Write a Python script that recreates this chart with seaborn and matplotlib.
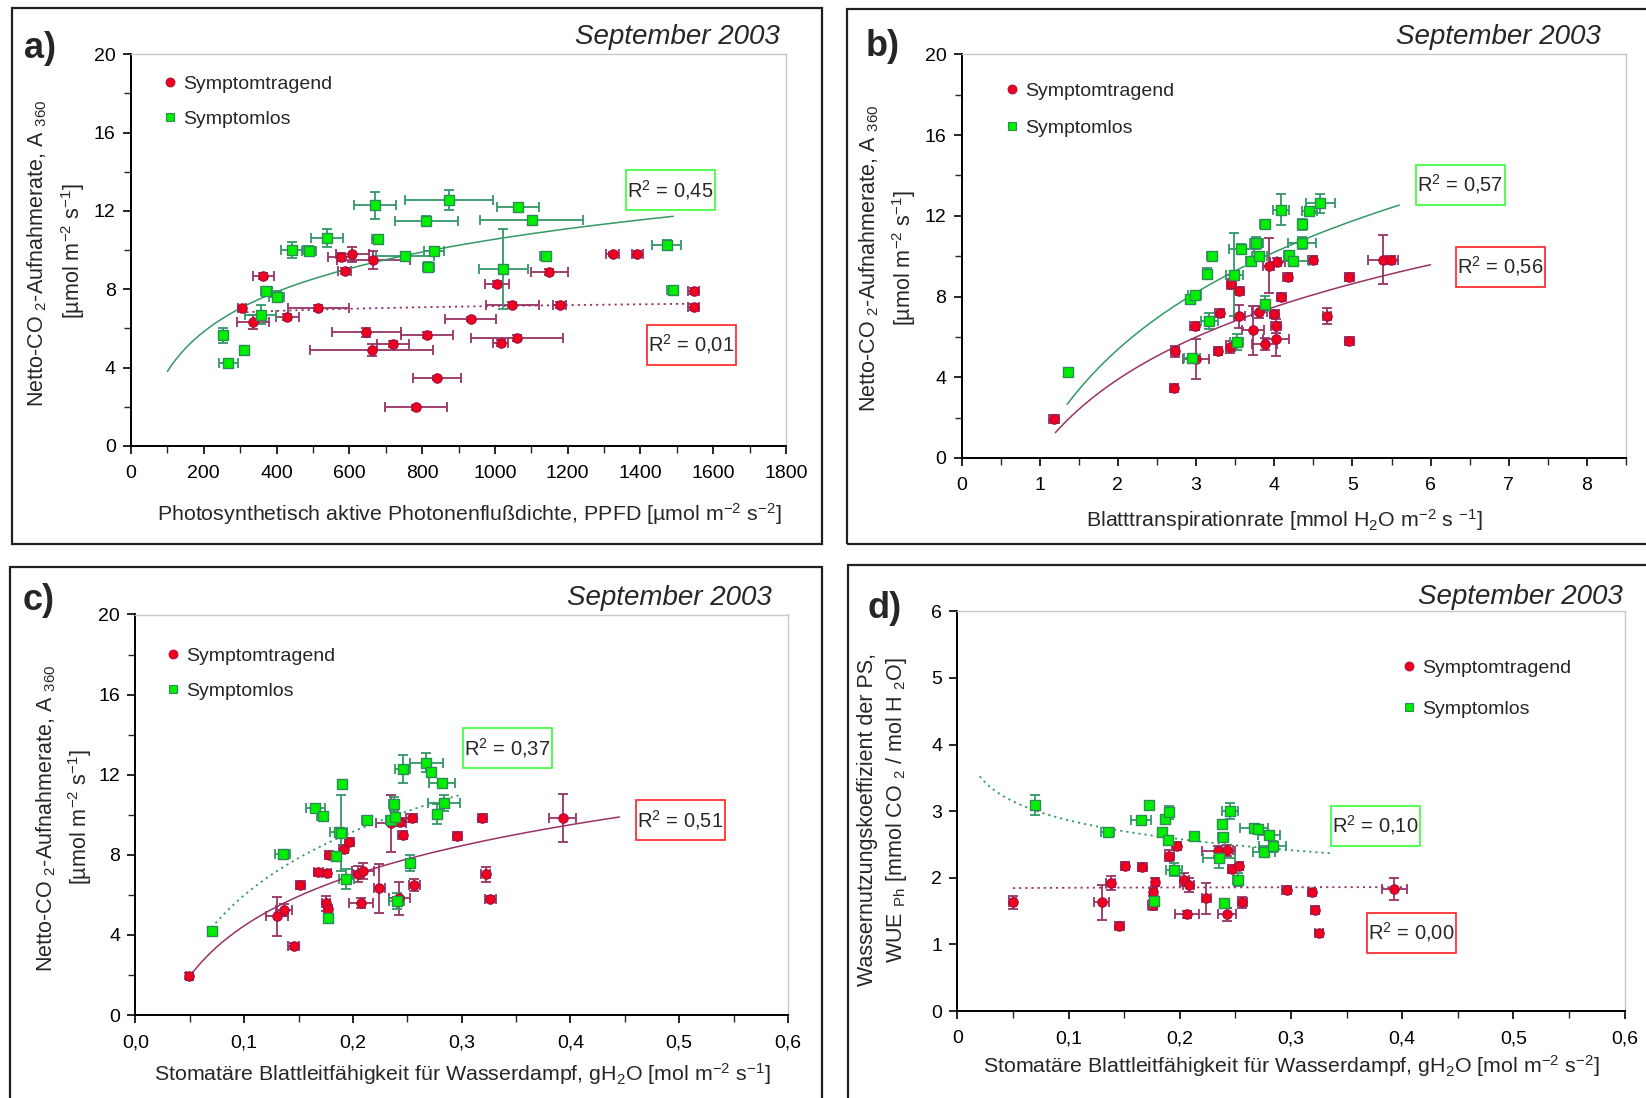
import numpy as np
import pandas as pd
import matplotlib
matplotlib.use("Agg")
import matplotlib.pyplot as plt
import seaborn as sns
from matplotlib.patches import Rectangle
from matplotlib.lines import Line2D
from matplotlib.ticker import MultipleLocator, FuncFormatter

# ---------------- data ----------------
# Panel a: PPFD vs A360
a_red_x = [305, 364, 335, 430, 515, 577, 608, 587, 666, 646, 661, 719, 813, 784, 842, 934, 1007, 1016, 1048, 1060, 1150, 1178, 1324, 1391, 1546, 1546]
a_red_y = [7.03, 8.68, 6.33, 6.57, 7.03, 9.63, 9.80, 8.95, 9.50, 5.80, 4.90, 5.21, 5.67, 1.97, 3.47, 6.49, 8.27, 5.28, 7.18, 5.51, 8.89, 7.18, 9.80, 9.80, 7.91, 7.10]
a_red_xerr = [12, 28, 43, 31, 84, 37, 46, 18, 101, 95, 168, 44, 72, 85, 66, 70, 33, 20, 72, 127, 50, 18, 18, 15, 15, 15]
a_red_yerr = [0.12, 0.15, 0.38, 0.15, 0.15, 0.2, 0.38, 0.15, 0.47, 0.25, 0.3, 0.15, 0.15, 0.12, 0.12, 0.12, 0.15, 0.15, 0.15, 0.15, 0.15, 0.15, 0.12, 0.15, 0.15, 0.15]
a_grn_x = [254, 267, 311, 356, 372, 400, 442, 489, 539, 670, 678, 752, 812, 817, 832, 874, 1023, 1064, 1101, 1140, 1472, 1489]
a_grn_y = [5.65, 4.22, 4.90, 6.71, 7.93, 7.63, 10.00, 9.96, 10.62, 12.29, 10.55, 9.70, 11.50, 9.12, 9.94, 12.56, 9.04, 12.20, 11.52, 9.70, 10.25, 7.98]
a_grn_xerr = [12, 26, 12, 43, 15, 21, 31, 20, 44, 57, 15, 80, 87, 15, 28, 120, 68, 58, 141, 15, 39, 15]
a_grn_yerr = [0.38, 0.15, 0.15, 0.47, 0.2, 0.3, 0.42, 0.25, 0.45, 0.7, 0.15, 0.2, 0.25, 0.25, 0.15, 0.53, 2.04, 0.2, 0.2, 0.2, 0.25, 0.2]

# Panel b: transpiration vs A360
b_red_x = [1.18, 2.72, 2.73, 2.98, 3.00, 3.30, 3.28, 3.44, 3.45, 3.55, 3.55, 3.73, 3.81, 3.88, 3.93, 4.00, 4.02, 4.02, 4.04, 4.09, 4.17, 4.49, 4.67, 4.96, 4.96, 5.39, 5.49]
b_red_y = [1.92, 3.46, 5.29, 6.52, 4.90, 7.18, 5.29, 5.51, 8.64, 8.29, 7.02, 6.32, 7.22, 5.66, 9.53, 7.15, 6.52, 5.89, 9.70, 7.99, 8.95, 9.83, 7.05, 8.95, 5.81, 9.83, 9.83]
b_red_xerr = [0.06, 0.05, 0.05, 0.06, 0.17, 0.06, 0.05, 0.06, 0.06, 0.06, 0.07, 0.14, 0.1, 0.16, 0.07, 0.06, 0.06, 0.17, 0.1, 0.06, 0.06, 0.06, 0.05, 0.06, 0.06, 0.19, 0.06]
b_red_yerr = [0.2, 0.2, 0.28, 0.2, 1.0, 0.2, 0.2, 0.3, 0.25, 0.2, 0.58, 1.2, 0.3, 0.3, 1.37, 0.2, 0.35, 0.83, 0.2, 0.2, 0.2, 0.2, 0.39, 0.2, 0.2, 1.21, 0.2]
b_grn_x = [1.36, 2.92, 2.98, 2.95, 3.14, 3.20, 3.17, 3.49, 3.52, 3.58, 3.70, 3.77, 3.81, 3.88, 3.88, 4.09, 4.19, 4.24, 4.36, 4.36, 4.45, 4.59]
b_grn_y = [4.27, 7.89, 8.08, 4.93, 9.14, 10.00, 6.77, 9.09, 5.73, 10.36, 9.78, 10.63, 10.00, 11.57, 7.65, 12.31, 10.06, 9.78, 11.57, 10.63, 12.23, 12.61]
b_grn_xerr = [0.05, 0.05, 0.08, 0.1, 0.05, 0.06, 0.11, 0.11, 0.08, 0.16, 0.06, 0.08, 0.1, 0.06, 0.05, 0.1, 0.06, 0.2, 0.06, 0.18, 0.1, 0.19]
b_grn_yerr = [0.15, 0.15, 0.15, 0.2, 0.25, 0.15, 0.4, 2.05, 0.4, 0.25, 0.2, 0.3, 0.2, 0.2, 0.37, 0.78, 0.15, 0.2, 0.25, 0.3, 0.2, 0.47]

# Panel c: stomatal conductance vs A360
c_red_x = [0.0497, 0.1302, 0.1366, 0.1454, 0.1517, 0.1682, 0.1760, 0.1752, 0.1770, 0.1781, 0.1914, 0.1967, 0.2051, 0.2090, 0.2076, 0.2241, 0.2350, 0.2431, 0.2456, 0.2428, 0.2540, 0.2565, 0.2959, 0.3191, 0.3219, 0.3261, 0.3930]
c_red_y = [1.95, 4.94, 5.24, 3.46, 6.49, 7.16, 7.11, 5.57, 5.28, 7.99, 8.27, 8.62, 7.02, 7.19, 5.61, 6.32, 9.57, 9.65, 8.99, 5.82, 9.82, 6.49, 8.94, 9.82, 7.02, 5.81, 9.82]
c_red_xerr = [0.003, 0.0097, 0.007, 0.005, 0.004, 0.004, 0.004, 0.004, 0.004, 0.004, 0.004, 0.004, 0.005, 0.01, 0.011, 0.005, 0.014, 0.005, 0.004, 0.01, 0.005, 0.005, 0.004, 0.004, 0.004, 0.005, 0.0123]
c_red_yerr = [0.15, 0.97, 0.3, 0.15, 0.2, 0.15, 0.15, 0.37, 0.2, 0.2, 0.2, 0.2, 0.4, 0.4, 0.25, 1.23, 1.44, 0.2, 0.2, 0.83, 0.2, 0.3, 0.2, 0.2, 0.39, 0.15, 1.2]
c_grn_x = [0.0704, 0.1355, 0.1654, 0.1724, 0.1773, 0.1844, 0.1868, 0.1904, 0.1890, 0.1939, 0.2129, 0.2350, 0.2375, 0.2386, 0.2403, 0.2459, 0.2526, 0.2674, 0.2720, 0.2772, 0.2815, 0.2839]
c_grn_y = [4.21, 8.04, 10.32, 9.94, 4.86, 7.95, 9.15, 11.53, 9.10, 6.79, 9.74, 9.74, 10.53, 9.90, 5.69, 12.28, 7.61, 12.60, 12.15, 10.02, 11.57, 10.60]
c_grn_xerr = [0.003, 0.0067, 0.009, 0.005, 0.003, 0.004, 0.008, 0.004, 0.004, 0.007, 0.005, 0.005, 0.004, 0.004, 0.007, 0.007, 0.004, 0.015, 0.004, 0.004, 0.012, 0.0145]
c_grn_yerr = [0.15, 0.15, 0.2, 0.2, 0.2, 0.2, 0.2, 0.2, 1.9, 0.5, 0.2, 0.2, 0.35, 0.2, 0.4, 0.71, 0.4, 0.47, 0.2, 0.5, 0.2, 0.4]

# Panel d: stomatal conductance vs WUE
d_red_x = [0.0497, 0.1297, 0.1378, 0.1456, 0.1507, 0.1663, 0.1762, 0.1777, 0.1756, 0.1906, 0.1972, 0.2040, 0.2080, 0.2065, 0.2238, 0.2346, 0.2424, 0.2469, 0.2532, 0.2424, 0.2562, 0.2960, 0.3185, 0.3215, 0.3251, 0.3928]
d_red_y = [1.63, 1.63, 1.92, 1.28, 2.18, 2.16, 1.78, 1.94, 1.59, 2.33, 2.48, 1.97, 1.89, 1.45, 1.69, 2.40, 2.41, 2.13, 2.18, 1.45, 1.63, 1.81, 1.78, 1.52, 1.17, 1.83]
d_red_xerr = [0.003, 0.007, 0.004, 0.004, 0.004, 0.004, 0.003, 0.003, 0.004, 0.004, 0.004, 0.004, 0.005, 0.0105, 0.004, 0.015, 0.005, 0.004, 0.004, 0.008, 0.004, 0.004, 0.003, 0.004, 0.004, 0.0112]
d_red_yerr = [0.1, 0.26, 0.1, 0.05, 0.06, 0.06, 0.06, 0.06, 0.08, 0.08, 0.06, 0.1, 0.1, 0.05, 0.23, 0.08, 0.08, 0.06, 0.06, 0.1, 0.08, 0.06, 0.05, 0.06, 0.05, 0.17]
d_grn_x = [0.0701, 0.1352, 0.1651, 0.1726, 0.1771, 0.1840, 0.1867, 0.1903, 0.1896, 0.1947, 0.2127, 0.2349, 0.2379, 0.2385, 0.2397, 0.2451, 0.2520, 0.2667, 0.2706, 0.2799, 0.2757, 0.2835]
d_grn_y = [3.09, 2.69, 2.87, 3.09, 1.65, 2.69, 2.88, 2.98, 2.56, 2.12, 2.62, 2.29, 2.80, 2.61, 1.62, 3.00, 1.97, 2.74, 2.73, 2.64, 2.39, 2.47]
d_grn_xerr = [0.003, 0.006, 0.009, 0.003, 0.004, 0.004, 0.004, 0.004, 0.004, 0.007, 0.004, 0.0145, 0.003, 0.004, 0.004, 0.007, 0.004, 0.013, 0.004, 0.01, 0.01, 0.012]
d_grn_yerr = [0.15, 0.05, 0.06, 0.06, 0.08, 0.06, 0.06, 0.1, 0.06, 0.1, 0.06, 0.15, 0.06, 0.06, 0.06, 0.12, 0.1, 0.06, 0.06, 0.06, 0.06, 0.08]

# logarithmic trend line x-ranges (as drawn) and printed R² values
trend_range_red = {"a": (300, 1550), "b": (1.2, 6.0), "c": (0.05, 0.445), "d": (0.05, 0.40)}
trend_range_grn = {"a": (100, 1490), "b": (1.35, 5.6), "c": (0.07, 0.30), "d": (0.02, 0.335)}
r2_red = {"a": "0,01", "b": "0,56", "c": "0,51", "d": "0,00"}
r2_grn = {"a": "0,45", "b": "0,57", "c": "0,37", "d": "0,10"}

series_names = ["Symptomtragend", "Symptomlos"]
title_text = "September 2003"

# ---------------- style ----------------
sns.set_theme(style="white")
plt.rcParams["font.family"] = ["Liberation Sans", "DejaVu Sans"]
plt.rcParams["mathtext.fontset"] = "custom"
plt.rcParams["mathtext.rm"] = "Liberation Sans"
plt.rcParams["mathtext.it"] = "Liberation Sans:italic"
plt.rcParams["mathtext.bf"] = "Liberation Sans:bold"

RED_FILL, RED_EDGE, RED_LINE = "#F0001E", "#A01040", "#993366"
GRN_FILL, GRN_EDGE, GRN_LINE = "#00F000", "#2E8B57", "#339966"

W, H = 1646, 1098
fig = plt.figure(figsize=(W / 100, H / 100), dpi=100)
fig.patch.set_facecolor("white")

def fxp(x):
    return x / W

def fyp(y):
    return 1 - y / H

def axes_rect(l, t, r, b):
    return [l / W, 1 - b / H, (r - l) / W, (b - t) / H]

def add_rect(l, t, r, b, ec, lw, fill=False, z=1):
    fig.patches.append(Rectangle((fxp(l), fyp(b)), (r - l) / W, (b - t) / H,
                                 transform=fig.transFigure, fill=fill, facecolor="white",
                                 edgecolor=ec, linewidth=lw, zorder=z))

# panel frames
for (l, t, r, b) in [(11.5, 8, 822, 543.5), (846.5, 8.5, 1660, 544),
                     (9.5, 567, 822, 1110), (847.5, 565, 1660, 1110)]:
    add_rect(l, t, r, b, "#202020", 1.6)

DOT = (0, (1.2, 2.2))
panels = {
    "a": dict(rect=(131, 54.3, 786, 446), xlim=(0, 1800), ylim=(0, 20),
              xmaj=200, xmin=100, ymaj=4, ymin=2,
              red=(a_red_x, a_red_y, a_red_xerr, a_red_yerr),
              grn=(a_grn_x, a_grn_y, a_grn_xerr, a_grn_yerr),
              red_ls=DOT, grn_ls="-",
              xfmt=lambda v: f"{v:.0f}",
              xlabel=r"Photosynthetisch aktive Photonenflußdichte, PPFD [µmol m$^{-2}$ s$^{-2}$]",
              xlab_pos=(469, 514),
              ylab=[r"Netto-CO ${}_2$-Aufnahmerate, A ${}_{360}$", r"[µmol m$^{-2}$ s$^{-1}$]"],
              ylab_pos=[(37, 253), (73.5, 251)],
              letter="a)", letter_pos=(24, 48), title_pos=(780, 36.5),
              legend=(163, 75, 35),
              box_grn=(670.5, 190), box_red=(691.5, 344.5)),
    "b": dict(rect=(961.6, 54.3, 1626, 458), xlim=(0, 8.5), ylim=(0, 20),
              xmaj=1, xmin=0.5, ymaj=4, ymin=2,
              red=(b_red_x, b_red_y, b_red_xerr, b_red_yerr),
              grn=(b_grn_x, b_grn_y, b_grn_xerr, b_grn_yerr),
              red_ls="-", grn_ls="-",
              xfmt=lambda v: f"{v:.0f}",
              xlabel=r"Blatttranspirationrate [mmol H$_2$O m$^{-2}$ s $^{-1}$]",
              xlab_pos=(1284, 520),
              ylab=[r"Netto-CO ${}_2$-Aufnahmerate, A ${}_{360}$", r"[µmol m$^{-2}$ s$^{-1}$]"],
              ylab_pos=[(869, 258), (904, 258)],
              letter="b)", letter_pos=(866, 47), title_pos=(1601, 36.5),
              legend=(1005, 82, 37),
              box_grn=(1460, 184.5), box_red=(1500, 266.5)),
    "c": dict(rect=(135.4, 614.5, 788, 1015), xlim=(0, 0.6), ylim=(0, 20),
              xmaj=0.1, xmin=0.05, ymaj=4, ymin=2,
              red=(c_red_x, c_red_y, c_red_xerr, c_red_yerr),
              grn=(c_grn_x, c_grn_y, c_grn_xerr, c_grn_yerr),
              red_ls="-", grn_ls=DOT,
              xfmt=lambda v: f"{v:.1f}".replace(".", ","),
              xlabel=r"Stomatäre Blattleitfähigkeit für Wasserdampf, gH$_2$O [mol m$^{-2}$ s$^{-1}$]",
              xlab_pos=(462, 1074),
              ylab=[r"Netto-CO ${}_2$-Aufnahmerate, A ${}_{360}$", r"[µmol m$^{-2}$ s$^{-1}$]"],
              ylab_pos=[(46, 818), (80, 817)],
              letter="c)", letter_pos=(23, 600), title_pos=(772, 598),
              legend=(166, 647, 34.5),
              box_grn=(507.5, 748), box_red=(680.5, 820)),
    "d": dict(rect=(957.4, 611.3, 1624.7, 1011), xlim=(0, 0.6), ylim=(0, 6),
              xmaj=0.1, xmin=0.05, ymaj=1, ymin=None,
              red=(d_red_x, d_red_y, d_red_xerr, d_red_yerr),
              grn=(d_grn_x, d_grn_y, d_grn_xerr, d_grn_yerr),
              red_ls=DOT, grn_ls=DOT,
              xfmt=lambda v: "0" if abs(v) < 1e-9 else f"{v:.1f}".replace(".", ","),
              xlabel=r"Stomatäre Blattleitfähigkeit für Wasserdampf, gH$_2$O [mol m$^{-2}$ s$^{-2}$]",
              xlab_pos=(1291, 1066),
              ylab=[r"Wassernutzungskoeffizient der PS,", r"WUE ${}_{\mathrm{Ph}}$ [mmol CO ${}_2$ / mol H ${}_2$O]"],
              ylab_pos=[(868, 819), (896.5, 810)],
              letter="d)", letter_pos=(867, 608), title_pos=(1623, 596.5),
              legend=(1402, 659, 41),
              box_grn=(1375, 825.5), box_red=(1411, 932.5)),
}

for key, p in panels.items():
    ax = fig.add_axes(axes_rect(*p["rect"]))
    ax.set_facecolor("white")
    ax.set_xlim(*p["xlim"])
    ax.set_ylim(*p["ylim"])

    for spine in ("left", "bottom"):
        ax.spines[spine].set_color("black")
        ax.spines[spine].set_linewidth(1.4)
    for spine in ("top", "right"):
        ax.spines[spine].set_color("#C8C8C8")
        ax.spines[spine].set_linewidth(1.0)

    ax.xaxis.set_major_locator(MultipleLocator(p["xmaj"]))
    ax.xaxis.set_minor_locator(MultipleLocator(p["xmin"]))
    ax.yaxis.set_major_locator(MultipleLocator(p["ymaj"]))
    if p["ymin"]:
        ax.yaxis.set_minor_locator(MultipleLocator(p["ymin"]))
    ax.xaxis.set_major_formatter(FuncFormatter(lambda v, pos, f=p["xfmt"]: f(v)))
    ax.yaxis.set_major_formatter(FuncFormatter(lambda v, pos: f"{v:.0f}"))
    ax.tick_params(axis="both", which="major", direction="out", length=6, width=1.2,
                   labelsize=14, colors="black", pad=5, bottom=True, left=True)
    ax.tick_params(axis="both", which="minor", direction="out", length=5, width=1.0,
                   bottom=True, left=True)
    ax.tick_params(axis="x", pad=8)
    ax.grid(False)

    # error bars
    for ser, col in ((p["red"], RED_LINE), (p["grn"], GRN_LINE)):
        x, y, xe, ye = ser
        ax.errorbar(x, y, xerr=xe, yerr=ye, fmt="none", ecolor=col,
                    elinewidth=1.3, capsize=3.5, capthick=1.3, zorder=2)

    # trend lines (logarithmic least-squares fit of the data)
    for ser, rng, col, ls in ((p["red"], trend_range_red[key], RED_LINE, p["red_ls"]),
                              (p["grn"], trend_range_grn[key], GRN_LINE, p["grn_ls"])):
        x, y = np.asarray(ser[0], float), np.asarray(ser[1], float)
        b, a = np.polyfit(np.log(x), y, 1)
        xx = np.linspace(rng[0], rng[1], 200)
        ax.plot(xx, a + b * np.log(xx), color=col, lw=1.3 if ls != "-" else 1.1,
                linestyle=ls, zorder=3)

    # markers via seaborn
    df_r = pd.DataFrame({"x": p["red"][0], "y": p["red"][1]})
    df_g = pd.DataFrame({"x": p["grn"][0], "y": p["grn"][1]})
    sns.scatterplot(data=df_r, x="x", y="y", ax=ax, marker="o", s=46,
                    color=RED_FILL, edgecolor=RED_EDGE, linewidth=0.8, zorder=4, legend=False)
    sns.scatterplot(data=df_g, x="x", y="y", ax=ax, marker="s", s=42,
                    color=GRN_FILL, edgecolor=GRN_EDGE, linewidth=1.0, zorder=4, legend=False)
    ax.set_xlabel("")
    ax.set_ylabel("")

    # legend
    lx, ly, sp = p["legend"]
    fs = 14
    fs_px = fs * 100 / 72
    handles = [Line2D([], [], marker="o", ls="none", markersize=6.5, markerfacecolor=RED_FILL,
                      markeredgecolor=RED_EDGE, markeredgewidth=0.6),
               Line2D([], [], marker="s", ls="none", markersize=6, markerfacecolor=GRN_FILL,
                      markeredgecolor=GRN_EDGE, markeredgewidth=0.8)]
    ax.legend(handles, series_names, loc="upper left",
              bbox_to_anchor=(fxp(lx), fyp(ly)), bbox_transform=fig.transFigure,
              frameon=False, borderpad=0, borderaxespad=0, handlelength=0.7,
              handletextpad=0.35, labelspacing=max((sp - 17.0) / fs_px, 0.1),
              prop={"size": fs})

    # R² boxes (89 x 40 px)
    for pos, txt, ec in ((p["box_grn"], r2_grn[key], "#33FF33"), (p["box_red"], r2_red[key], "#FF2020")):
        cx, cy = pos
        add_rect(cx - 44.5, cy - 20, cx + 44.5, cy + 20, ec, 1.2, fill=True, z=5)
        fig.text(fxp(cx), fyp(cy), "R$^{2}$ = " + txt, ha="center", va="center",
                 fontsize=14.5, zorder=6)

    # axis labels
    fig.text(fxp(p["xlab_pos"][0]), fyp(p["xlab_pos"][1]), p["xlabel"], ha="center", va="center",
             fontsize=15.4)
    for lab, pos in zip(p["ylab"], p["ylab_pos"]):
        fig.text(fxp(pos[0]), fyp(pos[1]), lab, ha="center", va="center", rotation=90,
                 fontsize=15.5)

    # panel letter and title
    fig.text(fxp(p["letter_pos"][0]), fyp(p["letter_pos"][1]), p["letter"], ha="left", va="center",
             fontsize=26, fontweight="bold")
    fig.text(fxp(p["title_pos"][0]), fyp(p["title_pos"][1]), title_text, ha="right", va="center",
             fontsize=20, fontstyle="italic")

fig.savefig("out.png", dpi=100, facecolor="white")
